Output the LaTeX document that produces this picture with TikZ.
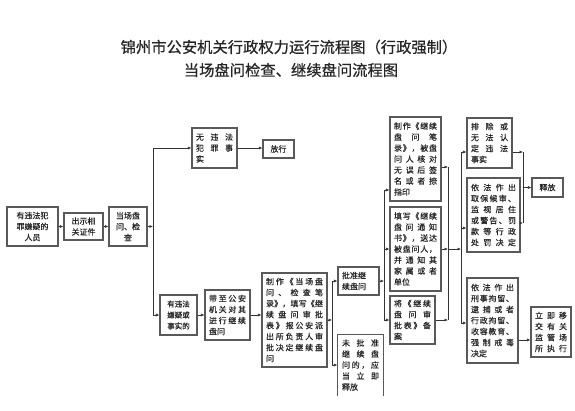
\documentclass[tikz,border=0pt]{standalone}
\usepackage{fontspec}
\setmainfont{Noto Sans CJK SC}
\newfontfamily\bxfam[FakeBold=0.4]{Noto Sans CJK SC}
\newfontfamily\ttlfam[FakeBold=0.6]{Noto Sans CJK SC}
\usetikzlibrary{arrows.meta}
\newcommand\bxfont{\bxfam\fontsize{8pt}{11pt}\selectfont}
\newcommand\smbxfont{\bxfam\fontsize{7.5pt}{11pt}\selectfont}
\newcommand\ttlfont{\ttlfam\fontsize{15.3pt}{18pt}\selectfont}
\newcommand\spr[1]{\makebox[\linewidth][s]{\sprA#1\sprEnd}}
\def\sprA#1#2\sprEnd{#1\ifx\relax#2\relax\else\hfill\sprA#2\sprEnd\fi}
\begin{document}
\begin{tikzpicture}[x=1pt,y=-1pt,
  bx/.style={draw=black!65, line width=1.1pt, inner xsep=4pt, inner ysep=3pt, font=\bxfont, text=black!85},
  ln/.style={line width=0.6pt, draw=black!80},
  arr/.style={ln, -{Latex[length=3.5pt,width=3pt]}},
  ttl/.style={font=\ttlfont, text=black!85, inner sep=0pt}]
\fill[white] (0,0) rectangle (575,410);
\useasboundingbox (0,0) rectangle (575,410);

% titles
\node[ttl] (t1) at (289,47) {锦州市公安机关行政权力运行流程图（行政强制）};
\node[ttl] (t2) at (291,70) {当场盘问检查、继续盘问流程图};

% boxes
\node[bx, minimum width=51pt, minimum height=39pt, text width=43pt, align=center] (A) at (32.5,226.5) {有违法犯\\罪嫌疑的\\人员};
\node[bx, minimum width=39pt, minimum height=27pt, text width=31pt, align=center] (B) at (83.5,226.5) {出示相\\关证件};
\node[bx, minimum width=38pt, minimum height=39pt, text width=30pt, align=center] (C) at (128,226.5) {当场盘\\问、检\\查};
\node[bx, minimum width=45pt, minimum height=40pt, text width=37pt, align=left] (P) at (214.5,148) {\spr{无违法}\\\spr{犯罪事}\\实};
\node[bx, minimum width=31pt, minimum height=18pt, text width=23pt, align=center] (Q) at (278.5,149) {放行};
\node[bx, font=\smbxfont, minimum width=37pt, minimum height=40pt, text width=29pt, align=center] (D) at (178.5,315) {有违法\\嫌疑或\\事实的};
\node[bx, minimum width=45pt, minimum height=50pt, text width=37pt, align=left] (E) at (227.5,315) {\spr{带至公安}\\\spr{机关对其}\\\spr{进行继续}\\盘问};
\node[bx, minimum width=65pt, minimum height=94pt, text width=57pt, align=left] (F) at (294.5,320) {\spr{制作《当场盘}\\\spr{问、检查笔}\\\spr{录》，填写《继}\\\spr{续盘问审批}\\\spr{表》报公安派}\\\spr{出所负责人审}\\\spr{批决定继续盘}\\问};
\node[bx, minimum width=41pt, minimum height=28pt, text width=33pt, align=left] (G) at (358.5,281) {批准继\\续盘问};
\node[bx, draw=none, minimum width=45pt, minimum height=60pt, text width=37pt, align=left] (H) at (360.5,365) {\spr{未批准}\\\spr{继续盘}\\\spr{问的，应}\\\spr{当立即}\\释放};
\draw[draw=black!65, line width=1.1pt] (H.south west) -- (H.north west) -- (H.north east) -- (H.south east);
\node[bx, minimum width=51pt, minimum height=84pt, text width=43pt, align=left] (I) at (415.5,159) {\spr{制作《继续}\\\spr{盘问笔}\\\spr{录》，被盘}\\\spr{问人核对}\\\spr{无误后签}\\\spr{名或者捺}\\指印};
\node[bx, minimum width=51pt, minimum height=84pt, text width=43pt, align=left] (J) at (415.5,249) {\spr{填写《继续}\\\spr{盘问通知}\\\spr{书》，送达}\\\spr{被盘问人，}\\\spr{并通知其}\\\spr{家属或者}\\单位};
\node[bx, minimum width=45pt, minimum height=48pt, text width=37pt, align=left] (K) at (412.5,320) {\spr{将《继续}\\\spr{盘问审}\\\spr{批表》备}\\案};
\node[bx, minimum width=45pt, minimum height=50pt, text width=37pt, align=left] (L) at (489.5,143) {\spr{排除或}\\\spr{无法认}\\\spr{定违法}\\事实};
\node[bx, minimum width=53pt, minimum height=74pt, text width=45pt, align=left] (M) at (493.5,215) {\spr{依法作出}\\\spr{取保候审、}\\\spr{监视居住}\\\spr{或警告、罚}\\\spr{款等行政}\\\spr{处罚决定}};
\node[bx, minimum width=31pt, minimum height=19pt, text width=23pt, align=center] (R) at (547.5,187.5) {释放};
\node[bx, minimum width=51pt, minimum height=85pt, text width=43pt, align=left] (N) at (492.5,320.5) {\spr{依法作出}\\\spr{刑事拘留、}\\\spr{逮捕或者}\\\spr{行政拘留、}\\\spr{收容教育、}\\\spr{强制戒毒}\\决定};
\node[bx, minimum width=40pt, minimum height=50pt, text width=32pt, align=left] (O) at (551,332) {\spr{立即移}\\\spr{交有关}\\\spr{监管场}\\\spr{所执行}};

% bus positions and levels
\coordinate (x1) at (153,0);
\coordinate (x2) at (332,0);
\coordinate (x3) at (384,0);
\coordinate (x4) at (448,0);
\coordinate (x5) at (461,0);
\coordinate (x6) at (523,0);
\coordinate (yI3) at (0,190);
\coordinate (yI4) at (0,167);
\coordinate (yL) at (0,152);
\coordinate (yM) at (0,228);
\coordinate (yN) at (0,323);
\coordinate (yM6) at (0,223);
\coordinate (yNO) at (0,340);

% connectors
\draw[arr] (A.east) -- (B.west);
\draw[arr] (B.east) -- (C.west);
\draw[arr] (C.east) -- (C.east -| x1);
\draw[ln] (P.west -| x1) -- (D.west -| x1);
\draw[arr] (P.west -| x1) -- (P.west);
\draw[arr] (D.west -| x1) -- (D.west);
\draw[arr] (P.east) -- (P.east -| Q.west);
\draw[arr] (D.east) -- (E.west);
\draw[arr] (E.east) -- (E.east -| F.west);
\draw[arr] (F.east) -- (F.east -| x2);
\draw[ln] (G.west -| x2) -- (H.west -| x2);
\draw[arr] (G.west -| x2) -- (G.west);
\draw[arr] (H.west -| x2) -- (H.west);
\draw[arr] (G.east) -- (G.east -| x3);
\draw[ln] (x3 |- yI3) -- (K.west -| x3);
\draw[arr] (x3 |- yI3) -- (I.west |- yI3);
\draw[arr] (J.west -| x3) -- (J.west);
\draw[arr] (K.west -| x3) -- (K.west);
\draw[arr] (I.east |- yI4) -- (x4 |- yI4);
\draw[arr] (J.east) -- (J.east -| x4);
\draw[arr] (K.east) -- (K.east -| x4);
\draw[ln] (x4 |- yI4) -- (K.east -| x4);
\draw[arr] (J.east -| x4) -- (J.east -| x5);
\draw[ln] (x5 |- yL) -- (x5 |- yN);
\draw[arr] (x5 |- yL) -- (L.west |- yL);
\draw[arr] (x5 |- yM) -- (M.west |- yM);
\draw[arr] (x5 |- yN) -- (N.west |- yN);
\draw[arr] (L.east |- yL) -- (x6 |- yL);
\draw[arr] (M.east |- yM6) -- (x6 |- yM6);
\draw[ln] (x6 |- yL) -- (x6 |- yM6);
\draw[arr] (R.west -| x6) -- (R.west);
\draw[arr] (N.east |- yNO) -- (O.west |- yNO);
\end{tikzpicture}
\end{document}
